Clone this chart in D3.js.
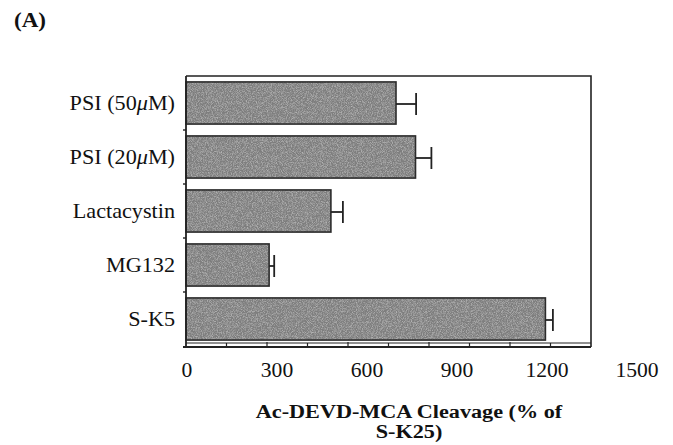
<!DOCTYPE html>
<html>
<head>
<meta charset="utf-8">
<script src="https://cdn.jsdelivr.net/npm/d3@7"></script>
<style>
  html, body { margin: 0; padding: 0; background: #fff; }
  svg { display: block; }
  text { font-family: "Liberation Serif", "Times New Roman", serif; fill: #111; }
</style>
</head>
<body>
<svg id="chart" width="673" height="445"></svg>
<script>
// Treatments, mean cleavage (% of S-K25) and standard error
const categories = ["PSI (50\u03BCM)", "PSI (20\u03BCM)", "Lactacystin", "MG132", "S-K5"];
const values = [700, 765, 483, 277, 1198];
const errors = [67, 53, 40, 17, 25];
const tickLabels = [0, 300, 600, 900, 1200, 1500];
const frameTicks = [135, 270, 405, 540, 675, 810, 945, 1080, 1215];
const frameMax = 1350;

const svg = d3.select("#chart");

const x = d3.scaleLinear().domain([0, 1500]).range([186, 636]);
const y = d3.scaleBand().domain(categories).range([76, 346])
  .paddingInner(0.22).paddingOuter(0.11);

// text set in a slightly wide face: anchor point, then horizontal stretch
function wideText(parent, px, py, sx) {
  return parent.append("g")
    .attr("transform", `translate(${px},${py}) scale(${sx},1)`)
    .append("text");
}

// writes a label, setting any \u03BC in italic
function withItalicMu(textSel, label) {
  label.split(/(\u03BC)/).filter(s => s.length).forEach(part => {
    const t = textSel.append("tspan").text(part);
    if (part === "\u03BC") t.attr("font-style", "italic");
  });
}

// grainy grey fill for the bars
const defs = svg.append("defs");
const filt = defs.append("filter").attr("id", "grain")
  .attr("x", 0).attr("y", 0).attr("width", 1).attr("height", 1);
filt.append("feTurbulence").attr("type", "fractalNoise")
  .attr("baseFrequency", 1.2).attr("numOctaves", 1).attr("seed", 4).attr("result", "n");
filt.append("feColorMatrix").attr("in", "n").attr("type", "matrix")
  .attr("values", "0 0 0 0 1  0 0 0 0 1  0 0 0 0 1  0.8 0 0 0 -0.33").attr("result", "specks");
filt.append("feComposite").attr("in", "specks").attr("in2", "SourceGraphic")
  .attr("operator", "atop");

const plotLeft = x(0), plotRight = x(frameMax);
const plotTop = y.range()[0], plotBottom = y.range()[1] + 1;

// bars
svg.append("g").selectAll("rect")
  .data(categories)
  .join("rect")
  .attr("x", plotLeft)
  .attr("y", d => y(d))
  .attr("width", (d, i) => x(values[i]) - x(0))
  .attr("height", y.bandwidth())
  .attr("fill", "#7e7e7e")
  .attr("filter", "url(#grain)");
svg.append("g").selectAll("rect")
  .data(categories)
  .join("rect")
  .attr("x", plotLeft)
  .attr("y", d => y(d))
  .attr("width", (d, i) => x(values[i]) - x(0))
  .attr("height", y.bandwidth())
  .attr("fill", "none")
  .attr("stroke", "#2b2b2b")
  .attr("stroke-width", 1.6);

// error bars
const eb = svg.append("g").attr("stroke", "#222").attr("stroke-width", 1.8);
categories.forEach((c, i) => {
  const cy = y(c) + y.bandwidth() / 2 + 1;
  eb.append("line")
    .attr("x1", x(values[i])).attr("x2", x(values[i] + errors[i]))
    .attr("y1", cy).attr("y2", cy);
  eb.append("line")
    .attr("x1", x(values[i] + errors[i])).attr("x2", x(values[i] + errors[i]))
    .attr("y1", cy - 11).attr("y2", cy + 11);
});

// frame
const fr = svg.append("g").attr("stroke", "#222").attr("fill", "none");
fr.append("path")
  .attr("d", `M${plotLeft},${plotTop}H${plotRight}V${plotBottom}`)
  .attr("stroke-width", 1.6);
fr.append("line").attr("x1", plotLeft).attr("x2", plotLeft).attr("y1", plotTop).attr("y2", plotBottom)
  .attr("stroke-width", 1.8);
fr.append("line").attr("x1", plotLeft - 3).attr("x2", plotRight).attr("y1", plotBottom).attr("y2", plotBottom)
  .attr("stroke-width", 1.8);
fr.append("line").attr("x1", plotLeft).attr("x2", plotRight).attr("y1", plotBottom - 4).attr("y2", plotBottom - 4)
  .attr("stroke-width", 1);
fr.selectAll("line.xt").data(frameTicks).join("line")
  .attr("class", "xt")
  .attr("x1", d => x(d)).attr("x2", d => x(d))
  .attr("y1", (d, i) => plotBottom - (i % 2 ? 5 : 4)).attr("y2", plotBottom)
  .attr("stroke-width", 1.2);

// category ticks on the left edge
const yTicks = categories.slice(1).map(c => y(c) - y.step() * y.paddingInner() / 2);
fr.selectAll("line.yt").data(yTicks).join("line")
  .attr("class", "yt")
  .attr("x1", plotLeft - 3).attr("x2", plotLeft)
  .attr("y1", d => d).attr("y2", d => d)
  .attr("stroke-width", 1.4);

// category labels
const catG = svg.append("g");
categories.forEach(c => {
  const t = wideText(catG, 175, y(c) + y.bandwidth() / 2 + 7, 1.11)
    .attr("text-anchor", "end")
    .attr("font-size", 20);
  withItalicMu(t, c);
});

// value labels below the frame
const tickG = svg.append("g");
tickLabels.forEach(v => {
  wideText(tickG, x(v) + 1, 377, 1.08)
    .attr("text-anchor", "middle")
    .attr("font-size", 20)
    .text(v);
});

// axis title
const titleLines = ["Ac-DEVD-MCA Cleavage (% of", "S-K25)"];
titleLines.forEach((line, i) => {
  wideText(svg, 409, 418 + i * 20, 1.17)
    .attr("text-anchor", "middle")
    .attr("font-size", 19)
    .attr("font-weight", "bold")
    .text(line);
});

// panel letter
wideText(svg, 14, 27, 1.1)
  .attr("font-size", 21)
  .attr("font-weight", "bold")
  .text("(A)");
</script>
</body>
</html>
